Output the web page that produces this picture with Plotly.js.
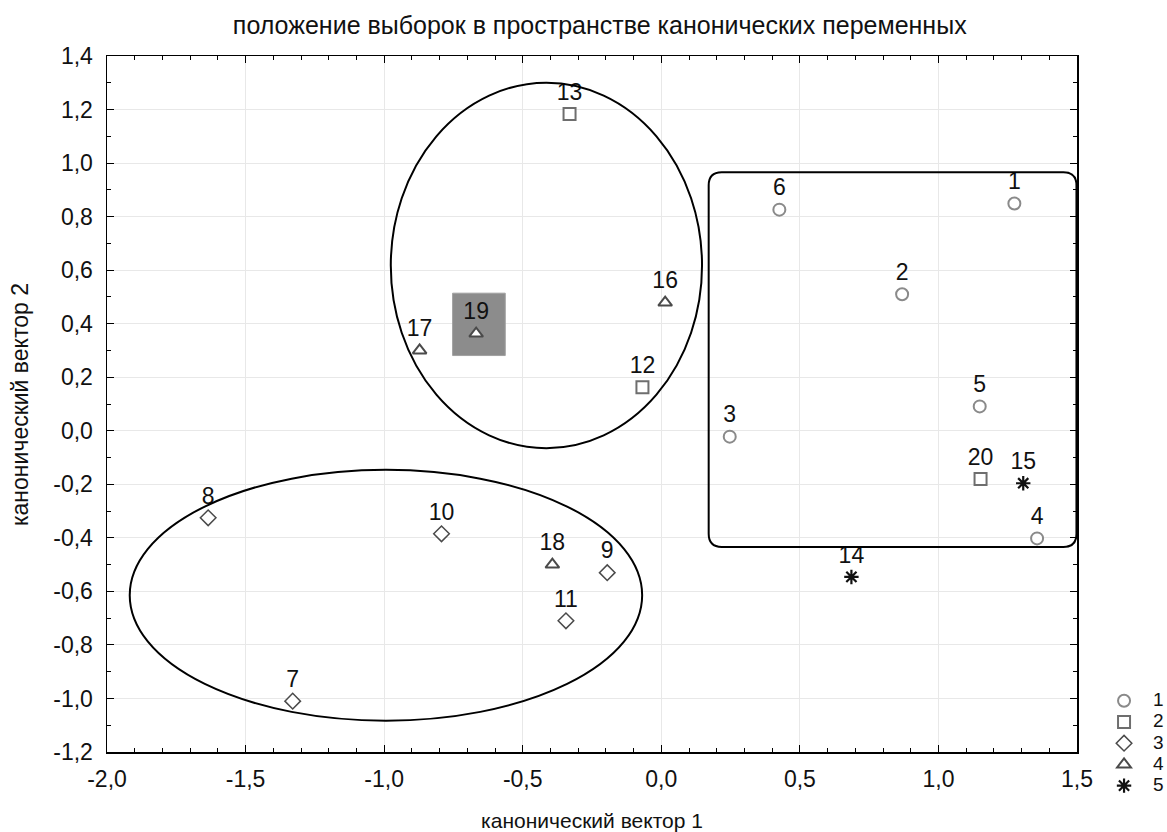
<!DOCTYPE html>
<html>
<head>
<meta charset="utf-8">
<script src="https://cdn.plot.ly/plotly-3.0.1.min.js"></script>
<style>html,body{margin:0;padding:0;background:#fff;}#chart{width:1167px;height:832px;}</style>
</head>
<body>
<div id="chart"></div>
<script>
// ---- data ----
const groupNames = ['1', '2', '3', '4', '5'];

const g1Labels = ['1', '2', '3', '4', '5', '6'];
const g1X = [1.274, 0.869, 0.247, 1.356, 1.149, 0.426];
const g1Y = [0.849, 0.510, -0.022, -0.402, 0.091, 0.826];

const g2Labels = ['12', '13', '20'];
const g2X = [-0.068, -0.331, 1.152];
const g2Y = [0.163, 1.183, -0.180];

const g3Labels = ['7', '8', '9', '10', '11'];
const g3X = [-1.330, -1.635, -0.195, -0.793, -0.344];
const g3Y = [-1.010, -0.325, -0.530, -0.385, -0.710];

const g4Labels = ['16', '17', '18', '19'];
const g4X = [0.014, -0.872, -0.393, -0.668];
const g4Y = [0.479, 0.300, -0.500, 0.363];

const g5Labels = ['14', '15'];
const g5X = [0.686, 1.306];
const g5Y = [-0.546, -0.196];

const xTickVals = [-2.0, -1.5, -1.0, -0.5, 0.0, 0.5, 1.0, 1.5];
const xTickText = ['-2,0', '-1,5', '-1,0', '-0,5', '0,0', '0,5', '1,0', '1,5'];
const yTickVals = [-1.2, -1.0, -0.8, -0.6, -0.4, -0.2, 0.0, 0.2, 0.4, 0.6, 0.8, 1.0, 1.2, 1.4];
const yTickText = ['-1,2', '-1,0', '-0,8', '-0,6', '-0,4', '-0,2', '0,0', '0,2', '0,4', '0,6', '0,8', '1,0', '1,2', '1,4'];

const titleText = 'положение выборок в пространстве канонических переменных';
const xTitleText = 'канонический вектор 1';
const yTitleText = 'канонический вектор 2';

// group outlines (data coordinates)
const upperEllipse = [-0.976, 0.147, -0.065, 1.300];
const lowerEllipse = [-1.918, -0.069, -1.083, -0.146];
const roundRect = [0.171, 1.498, -0.434, 0.966];
const highlightRect = [-0.753, -0.563, 0.281, 0.514];

// ---- styles ----
const FONT = 'Liberation Sans, Arial, sans-serif';
const styles = [
  {symbol: 'circle', size: 12, line: '#8a8a8a', lw: 2},
  {symbol: 'square', size: 12, line: '#6e6e6e', lw: 2},
  {symbol: 'diamond', size: 12, line: '#4a4a4a', lw: 1.5},
  {symbol: 'triangle-up', size: 12, line: '#4a4a4a', lw: 2},
  {symbol: 'asterisk-open', size: 12, line: '#111111', lw: 2.2}
];
const groups = [
  [g1X, g1Y, g1Labels], [g2X, g2Y, g2Labels], [g3X, g3Y, g3Labels],
  [g4X, g4Y, g4Labels], [g5X, g5Y, g5Labels]
];

const traces = groups.map((g, i) => ({
  type: 'scatter',
  mode: 'markers+text',
  x: g[0], y: g[1], text: g[2],
  textposition: 'top center',
  textfont: {family: FONT, size: 23, color: '#111'},
  name: '<span style="font-size:19px">' + groupNames[i] + '</span>',
  cliponaxis: false,
  marker: {
    symbol: styles[i].symbol, size: styles[i].size,
    color: i === 4 ? '#111111' : '#ffffff',
    line: {color: styles[i].line, width: styles[i].lw}
  },
  hoverinfo: 'x+y+text'
}));

function roundedPath(b, rx, ry) {
  const [x0, x1, y0, y1] = b;
  return `M ${x0 + rx},${y1} L ${x1 - rx},${y1} Q ${x1},${y1} ${x1},${y1 - ry} ` +
         `L ${x1},${y0 + ry} Q ${x1},${y0} ${x1 - rx},${y0} ` +
         `L ${x0 + rx},${y0} Q ${x0},${y0} ${x0},${y0 + ry} ` +
         `L ${x0},${y1 - ry} Q ${x0},${y1} ${x0 + rx},${y1} Z`;
}

const shapes = [
  {type: 'rect', xref: 'x', yref: 'y', layer: 'between',
   x0: highlightRect[0], x1: highlightRect[1], y0: highlightRect[2], y1: highlightRect[3],
   fillcolor: '#8c8c8c', line: {color: '#a0a0a0', width: 1}},
  {type: 'circle', xref: 'x', yref: 'y', layer: 'above',
   x0: upperEllipse[0], x1: upperEllipse[1], y0: upperEllipse[2], y1: upperEllipse[3],
   line: {color: '#000', width: 2}},
  {type: 'circle', xref: 'x', yref: 'y', layer: 'above',
   x0: lowerEllipse[0], x1: lowerEllipse[1], y0: lowerEllipse[2], y1: lowerEllipse[3],
   line: {color: '#000', width: 2}},
  {type: 'path', xref: 'x', yref: 'y', layer: 'above',
   path: roundedPath(roundRect, 0.047, 0.049),
   line: {color: '#000', width: 2}}
];

const axisCommon = {
  tickmode: 'array',
  showline: true, linecolor: '#000', linewidth: 1.5, mirror: 'ticks',
  ticks: 'inside', ticklen: 7, tickcolor: '#000', tickwidth: 1,
  showgrid: true, gridcolor: '#e8e8e8', gridwidth: 1,
  zeroline: false,
  tickfont: {family: FONT, size: 23, color: '#111'},
  fixedrange: true
};

const layout = {
  width: 1167, height: 832,
  paper_bgcolor: '#fff', plot_bgcolor: '#fff',
  margin: {l: 107, r: 90, t: 56, b: 80, autoexpand: false},
  font: {family: FONT, color: '#111'},
  title: {
    text: titleText,
    font: {family: FONT, size: 25, color: '#111'},
    xref: 'paper', x: 0.508, xanchor: 'center',
    yref: 'container', y: 0.97, yanchor: 'middle'
  },
  xaxis: Object.assign({}, axisCommon, {
    range: [-2.0, 1.5], tickvals: xTickVals, ticktext: xTickText,
    ticklabelstandoff: 6,
    minor: {tickmode: 'linear', tick0: 0, dtick: 0.1, ticks: 'inside', ticklen: 4, tickcolor: '#000', showgrid: false},
    title: {text: xTitleText, font: {family: FONT, size: 21, color: '#111'}, standoff: 22}
  }),
  yaxis: Object.assign({}, axisCommon, {
    range: [-1.2, 1.4], tickvals: yTickVals, ticktext: yTickText,
    ticklabelstandoff: 8,
    minor: {tickmode: 'linear', tick0: 0, dtick: 0.1, ticks: 'inside', ticklen: 4, tickcolor: '#000', showgrid: false}
  }),
  annotations: [{
    text: yTitleText, textangle: -90,
    xref: 'paper', yref: 'paper', x: -0.0897, y: 0.5,
    xanchor: 'center', yanchor: 'middle', showarrow: false,
    font: {family: FONT, size: 23, color: '#111'}
  }],
  showlegend: true,
  legend: {
    x: 1.0186, xanchor: 'left', y: 0.096, yanchor: 'top',
    bgcolor: 'rgba(0,0,0,0)', borderwidth: 0,
    font: {family: FONT, size: 14, color: '#111'},
    itemwidth: 48, tracegroupgap: 0
  },
  shapes: shapes
};

Plotly.newPlot('chart', traces, layout, {displayModeBar: false, staticPlot: true});
</script>
</body>
</html>
